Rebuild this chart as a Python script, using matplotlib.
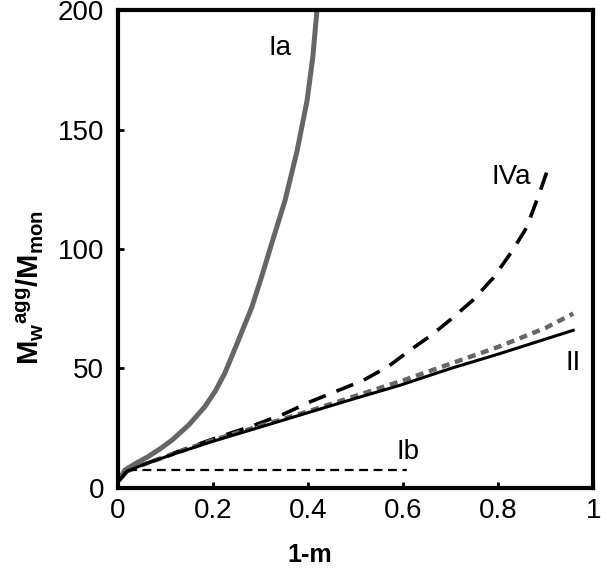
import numpy as np
import matplotlib
matplotlib.use("Agg")
import matplotlib.pyplot as plt

plt.rcParams["font.family"] = ["Liberation Sans", "DejaVu Sans"]
plt.rcParams["mathtext.fontset"] = "custom"
plt.rcParams["mathtext.rm"] = "Liberation Sans"
plt.rcParams["mathtext.bf"] = "Liberation Sans:bold"
plt.rcParams["mathtext.it"] = "Liberation Sans:italic"

# courbes
x_Ia = [0.002, 0.015, 0.04, 0.063, 0.09, 0.114, 0.15, 0.183, 0.205, 0.225, 0.25, 0.282, 0.305,
        0.326, 0.352, 0.377, 0.398, 0.41, 0.419]
y_Ia = [3, 7.5, 10.5, 13, 16.5, 20, 26.5, 34, 40.5, 48, 60, 75.7, 90,
        103.8, 120.5, 141, 162, 180, 200]

x_II = [0.002, 0.02, 0.05, 0.124, 0.2, 0.3, 0.4, 0.5, 0.594, 0.7, 0.8, 0.958]
y_II = [3, 7, 9.5, 14.6, 19.5, 25.5, 31.5, 37.5, 43, 50, 56, 66]

x_IVb = [0.002, 0.02, 0.05, 0.124, 0.2, 0.3, 0.4, 0.5, 0.6, 0.7, 0.8, 0.9, 0.958]
y_IVb = [3, 7, 9.5, 14.8, 20, 26, 32, 38.5, 45, 52, 59, 67, 73]

x_IVa = [0.002, 0.02, 0.05, 0.124, 0.2, 0.284, 0.35, 0.404, 0.46, 0.516, 0.57, 0.615, 0.66,
         0.7, 0.747, 0.79, 0.829, 0.86, 0.888, 0.909]
y_IVa = [3, 7, 9.5, 15, 20.5, 26, 31, 36, 40.5, 45, 51, 57.7, 64,
         70.5, 78.6, 88, 99, 109, 124, 136]

x_Ib = [0.002, 0.02, 0.608]
y_Ib = [3, 7.5, 7.5]

fig = plt.figure(figsize=(6.01, 5.68), dpi=100)
ax = fig.add_axes([0.196, 0.141, 0.791, 0.841])

ax.plot(x_Ia, y_Ia, color="#666666", lw=3.6, solid_capstyle="butt")
ax.plot(x_IVa, y_IVa, color="black", lw=2.6, dashes=(5, 3.2))
ax.plot(x_IVb, y_IVb, color="#666666", lw=3.2, dashes=(1.8, 1.3))
ax.plot(x_II, y_II, color="black", lw=2.2)
ax.plot(x_Ib, y_Ib, color="black", lw=1.6, dashes=(4, 2.5))

fs = 20
ax.text(0.341, 184, "Ia", fontsize=fs, ha="center", va="center")
ax.text(0.828, 130, "IVa", fontsize=fs, ha="center", va="center")
ax.text(0.958, 52.5, "II", fontsize=fs, ha="center", va="center")
ax.text(0.611, 15, "Ib", fontsize=fs, ha="center", va="center")

ax.set_xlim(0, 1)
ax.set_ylim(0, 200)
ax.set_xticks([0, 0.2, 0.4, 0.6, 0.8, 1])
ax.set_xticklabels(["0", "0.2", "0.4", "0.6", "0.8", "1"])
ax.set_yticks([0, 50, 100, 150, 200])
ax.tick_params(direction="in", length=4, width=2, labelsize=fs, top=False, right=False)
ax.tick_params(axis="x", pad=7)
ax.tick_params(axis="y", pad=10)
for sp in ax.spines.values():
    sp.set_linewidth(3)

ax.set_xlabel("1-m", fontsize=18, fontweight="bold")
ax.xaxis.set_label_coords(0.404, -0.115)
ax.set_ylabel(r"$\mathbf{M_w}^{\mathbf{agg}}\mathbf{/M_{mon}}$", fontsize=21)
ax.yaxis.set_label_coords(-0.15, 0.42)

fig.savefig("out.png", dpi=100)
